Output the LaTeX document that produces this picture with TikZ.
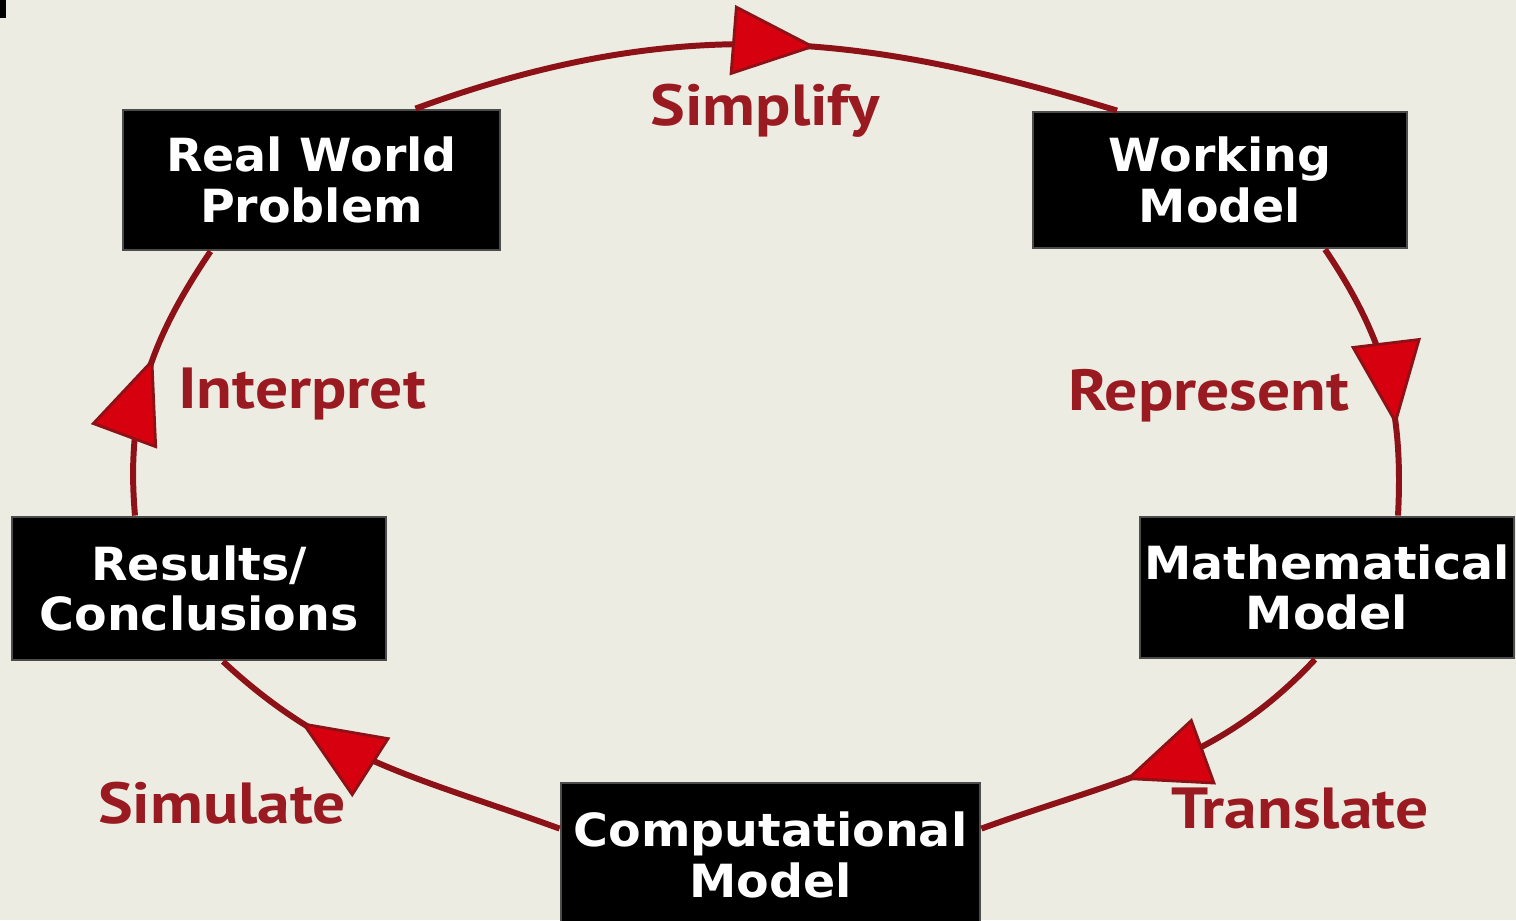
\documentclass[tikz,border=0pt]{standalone}
\usepackage{fontspec}
\setmainfont{DejaVu Sans}[FakeStretch=1.04]
\newfontfamily\stepfont{PT Sans}[FakeStretch=1.13]
\usetikzlibrary{arrows.meta,decorations.markings}

\definecolor{bgcol}{RGB}{236,236,226}
\definecolor{linered}{RGB}{140,18,24}
\definecolor{headred}{RGB}{214,0,14}
\definecolor{labelred}{RGB}{154,26,33}

\tikzset{
	box/.style={fill=black, draw=black!70, line width=0.8pt, text=white, align=center, inner sep=0pt,
		font=\bfseries\fontsize{13}{14.4}\selectfont},
	loopline/.style={draw=linered, line width=1.7pt, postaction={decorate},
		decoration={markings, mark=at position #1 with {\arrow{Triangle[length=8.4mm,width=7mm,fill=headred,line width=0.8pt]}}}},
	steplabel/.style={anchor=base, text=labelred, inner sep=0pt,
		font=\stepfont\bfseries\fontsize{16.5}{18}\selectfont}
}

\begin{document}
\begin{tikzpicture}
		%%%%% START %%%%%
		
		\useasboundingbox (0, 0) rectangle (15.16, 9.2);
		\fill[bgcol] (0, 0) rectangle (15.16, 9.2);
		\fill[black] (0, 9.2) rectangle (0.06, 9.02);
		
		\node[box, minimum width=3.77cm, minimum height=1.40cm] (rwp) at (3.115, 7.40) {Real World\\Problem};
		\node[box, minimum width=3.74cm, minimum height=1.36cm] (wm) at (12.20, 7.40) {Working\\Model};
		\node[box, minimum width=3.74cm, minimum height=1.41cm] (mm) at (13.27, 3.325) {Mathematical\\Model};
		\node[box, minimum width=4.19cm, minimum height=1.44cm] (cm) at (7.705, 0.65) {Computational\\Model};
		\node[box, minimum width=3.74cm, minimum height=1.43cm] (rc) at (1.99, 3.315) {Results/\\Conclusions};
		
		\draw[loopline=0.57] ([xshift=1.04cm]rwp.north) to[out=20, in=163] ([xshift=-1.03cm]wm.north);
		\draw[loopline=0.68] ([xshift=1.05cm]wm.south) to[out=-56, in=87] ([xshift=0.71cm]mm.north);
		\draw[loopline=0.6] ([xshift=-0.12cm]mm.south) to[out=227, in=20] ([yshift=-0.47cm]cm.north east);
		\draw[loopline=0.74] ([yshift=-0.47cm]cm.north west) to[out=160, in=-43] ([xshift=0.24cm]rc.south);
		\draw[loopline=0.57] ([xshift=-0.64cm]rc.north) to[out=95, in=236] ([xshift=-1.01cm]rwp.south);
		
		\node[steplabel] (simplify) at (7.65, 7.95) {Simplify};
		\node[steplabel] (represent) at (12.09, 5.10) {Represent};
		\node[steplabel] (translate) at (13.00, 0.92) {Translate};
		\node[steplabel] (simulate) at (2.22, 0.97) {Simulate};
		\node[steplabel] (interpret) at (3.02, 5.12) {Interpret};
		
		%%%%% END %%%%%
	\end{tikzpicture}
\end{document}
